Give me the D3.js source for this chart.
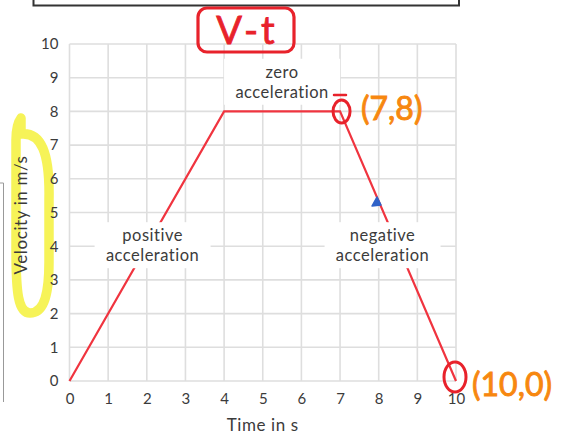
<!DOCTYPE html>
<html>
<head>
<meta charset="utf-8">
<script src="https://cdn.jsdelivr.net/npm/d3@7"></script>
<style>
  html, body { margin: 0; padding: 0; background: #fff; }
  svg { display: block; }
  text { font-family: Lato, "Open Sans", sans-serif; }
</style>
</head>
<body>
<svg id="chart" width="564" height="435"></svg>
<script>
// Velocity–time data
const times = [0, 4, 7, 10];
const velocities = [0, 8, 8, 0];
const timeTicks = [0, 1, 2, 3, 4, 5, 6, 7, 8, 9, 10];
const velocityTicks = [0, 1, 2, 3, 4, 5, 6, 7, 8, 9, 10];
const phaseLabels = [
  { lines: ["zero", "acceleration"], t: 5.5, v: 8.85 },
  { lines: ["positive", "acceleration"], t: 2.15, v: 4.0 },
  { lines: ["negative", "acceleration"], t: 8.1, v: 4.0 }
];
const xTitle = "Time in s";
const yTitle = "Velocity in m/s";

const svg = d3.select("#chart");
const margin = { left: 69.5, right: 108, top: 44, bottom: 54 };
const W = 564, H = 435;

const x = d3.scaleLinear().domain([0, 10]).range([margin.left, W - margin.right]);
const y = d3.scaleLinear().domain([0, 10]).range([H - margin.bottom, margin.top]);

const textColor = "#3b3b3b";
const gridColor = "#dedede";

// frame pieces around the figure
svg.append("path")
  .attr("d", "M33.5,0 V5.5 H459 V0")
  .attr("fill", "none").attr("stroke", "#333").attr("stroke-width", 2);
svg.append("path")
  .attr("d", "M0,183 H3.5 V402")
  .attr("fill", "none").attr("stroke", "#999").attr("stroke-width", 1);

// highlighter stroke around the y title (under the text)
svg.append("path")
  .attr("d", "M21,118 L21,134 C41,132 50,152 49,200 L49,262 C49,300 42,313 30,313 C18,313 16,292 16,250 L16,140 C16,128 18,122 21,118 Z")
  .attr("fill", "none")
  .attr("stroke", "#f6f358")
  .attr("stroke-width", 9.5)
  .attr("stroke-linejoin", "round")
  .attr("stroke-linecap", "round");

// grid
const grid = svg.append("g");
grid.selectAll("line.v").data(timeTicks).join("line")
  .attr("x1", d => x(d)).attr("x2", d => x(d))
  .attr("y1", y(10)).attr("y2", y(0))
  .attr("stroke", gridColor).attr("stroke-width", 1.6);
grid.selectAll("line.h").data(velocityTicks).join("line")
  .attr("x1", x(0)).attr("x2", x(10))
  .attr("y1", d => y(d)).attr("y2", d => y(d))
  .attr("stroke", gridColor).attr("stroke-width", 1.6);

// axes (labels only; lines come from the grid)
const xAxis = svg.append("g")
  .attr("transform", `translate(0,${y(0)})`)
  .call(d3.axisBottom(x).tickValues(timeTicks).tickSize(0).tickPadding(12).tickFormat(d3.format("d")));
const yAxis = svg.append("g")
  .attr("transform", `translate(${x(0)},0)`)
  .call(d3.axisLeft(y).tickValues(velocityTicks).tickSize(0).tickPadding(11).tickFormat(d3.format("d")));
[xAxis, yAxis].forEach(g => {
  g.select(".domain").remove();
  g.selectAll("text").attr("fill", textColor).attr("font-size", 15)
    .attr("font-family", "Lato, sans-serif");
});

// data line
const line = d3.line().x((d, i) => x(times[i])).y(d => y(d));
svg.append("path")
  .datum(velocities)
  .attr("d", line)
  .attr("fill", "none")
  .attr("stroke", "#f0343f")
  .attr("stroke-width", 2.2)
  .attr("stroke-linejoin", "miter");

// phase labels on white backgrounds
phaseLabels.forEach(p => {
  const cx = x(p.t), cy = y(p.v);
  svg.append("rect")
    .attr("x", cx - 58).attr("y", cy - 24)
    .attr("width", 116).attr("height", 46)
    .attr("fill", "#fff");
  p.lines.forEach((s, i) => {
    svg.append("text")
      .attr("x", cx).attr("y", cy - 5 + i * 20)
      .attr("text-anchor", "middle")
      .attr("font-size", 16.5)
      .attr("letter-spacing", 0.5)
      .attr("fill", textColor)
      .text(s);
  });
});

// axis titles
svg.append("text")
  .attr("x", (x(0) + x(10)) / 2).attr("y", 431)
  .attr("text-anchor", "middle").attr("font-size", 17).attr("letter-spacing", 0.6)
  .attr("fill", textColor)
  .text(xTitle);

svg.append("text")
  .attr("transform", `translate(27,215) rotate(-90)`)
  .attr("text-anchor", "middle").attr("font-size", 17).attr("letter-spacing", 0.6)
  .attr("fill", textColor)
  .text(yTitle);

// hand-drawn annotations
const red = "#e8222b", orange = "#f7870f";
svg.append("rect")
  .attr("x", 198).attr("y", 8).attr("width", 96).attr("height", 44)
  .attr("rx", 9)
  .attr("fill", "none").attr("stroke", red).attr("stroke-width", 3.2);
svg.append("text")
  .attr("x", 247).attr("y", 44)
  .attr("text-anchor", "middle")
  .attr("font-family", "\"Open Sans\", sans-serif")
  .attr("font-size", 38).attr("font-weight", 400)
  .attr("letter-spacing", 3)
  .attr("fill", red).attr("stroke", red).attr("stroke-width", 0.8)
  .text("V-t");

svg.append("ellipse")
  .attr("cx", x(7) + 1.5).attr("cy", y(8)).attr("rx", 8.5).attr("ry", 11.5)
  .attr("fill", "none").attr("stroke", red).attr("stroke-width", 3);
svg.append("path")
  .attr("d", "M334,95 L346,95")
  .attr("stroke", red).attr("stroke-width", 2.5).attr("stroke-linecap", "round");
svg.append("text")
  .attr("x", 361).attr("y", 120)
  .attr("font-family", "\"Open Sans\", sans-serif")
  .attr("font-size", 32).attr("font-weight", 400)
  .attr("fill", orange).attr("stroke", orange).attr("stroke-width", 0.9)
  .text("(7,8)");

svg.append("ellipse")
  .attr("cx", x(10) - 1).attr("cy", 377).attr("rx", 11).attr("ry", 15)
  .attr("fill", "none").attr("stroke", red).attr("stroke-width", 3);
svg.append("text")
  .attr("x", 472).attr("y", 396)
  .attr("font-family", "\"Open Sans\", sans-serif")
  .attr("font-size", 32).attr("font-weight", 400)
  .attr("fill", orange).attr("stroke", orange).attr("stroke-width", 0.9)
  .text("(10,0)");

svg.append("path")
  .attr("d", "M372,206 L377,197 L381,205 Z")
  .attr("fill", "#2f62c8").attr("stroke", "#2f62c8").attr("stroke-width", 1.5)
  .attr("stroke-linejoin", "round");
</script>
</body>
</html>
